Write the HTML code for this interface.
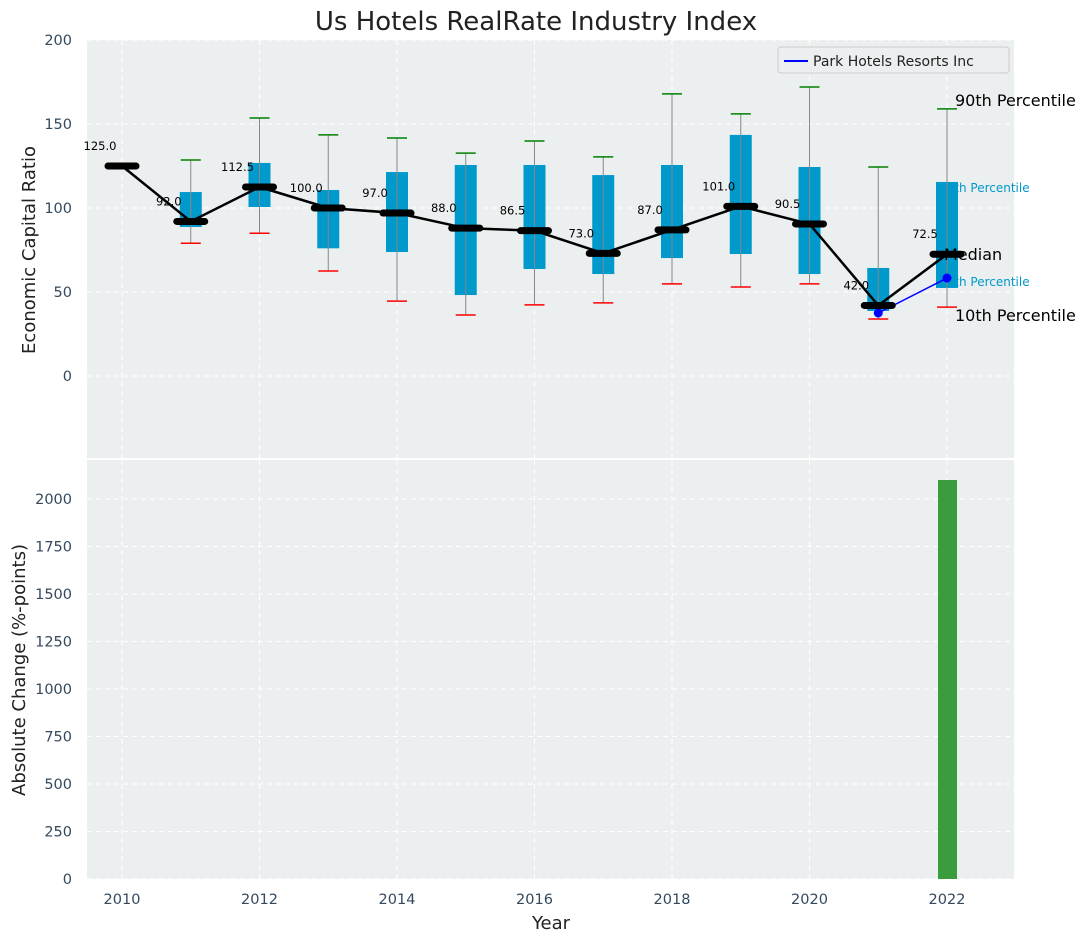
<!DOCTYPE html>
<html><head><meta charset="utf-8"><style>
body{margin:0;background:#fff}
svg{display:block;font-family:"DejaVu Sans","Liberation Sans",sans-serif}
</style></head><body>
<svg id="c" width="1090" height="942" viewBox="0 0 1090 942" xmlns="http://www.w3.org/2000/svg">
<text x="536" y="30" font-size="26" text-anchor="middle" fill="#222">Us Hotels RealRate Industry Index</text>
<rect x="87" y="40" width="927" height="418" fill="#ebeff0"/>
<rect x="87" y="460" width="927" height="419" fill="#ebeff0"/>
<g id="grid"></g>
<g id="marks"></g>
<text transform="translate(35,250) rotate(-90)" font-size="18" text-anchor="middle" fill="#222">Economic Capital Ratio</text>
<text transform="translate(25,670) rotate(-90)" font-size="18" text-anchor="middle" fill="#222">Absolute Change (%-points)</text>
<text x="551" y="929" font-size="18" text-anchor="middle" fill="#222">Year</text>
<g>
<rect x="778" y="47" width="231" height="26" rx="3" fill="#ebeff0" stroke="#ccc"/>
<line x1="784" y1="61" x2="808" y2="61" stroke="blue" stroke-width="2"/>
<text x="813" y="66" font-size="14" fill="#222">Park Hotels Resorts Inc</text>
</g>
</svg>
<script>
const years=[2010,2011,2012,2013,2014,2015,2016,2017,2018,2019,2020,2021,2022];
const medians=[125,92,112.5,100,97,88,86.5,73,87,101,90.5,42,72.5];
const q1=[null,88.7,100.6,76,73.8,48.2,63.7,60.7,70.2,72.6,60.7,38.7,52.4];
const q3=[null,109.5,126.8,110.7,121.4,125.6,125.6,119.6,125.6,143.5,124.4,64.3,115.5];
const p10=[null,79,85,62.5,44.6,36.3,42.3,43.5,54.8,53,54.8,33.9,41];
const p90=[null,128.6,153.6,143.5,141.7,132.7,139.9,130.4,167.9,156,172,124.4,159];
const companyYears=[2021,2022];
const companyValues=[37.5,58.3];
const barYears=[2022];
const barValues=[2100];
const topTicks=[0,50,100,150,200];
const bottomTicks=[0,250,500,750,1000,1250,1500,1750,2000];
const xTicks=[2010,2012,2014,2016,2018,2020,2022];

const X=v=>122+(v-2010)*68.75;
const Y1=v=>376-v*1.68;
const Y2=v=>879-v*0.19;
const NS="http://www.w3.org/2000/svg";
const grid=document.getElementById('grid');
const marks=document.getElementById('marks');
function mk(tag,attrs,parent){const e=document.createElementNS(NS,tag);for(const k in attrs)e.setAttribute(k,attrs[k]);(parent||marks).appendChild(e);return e;}
function txt(x,y,s,attrs,parent){const e=mk('text',Object.assign({x:x,y:y},attrs),parent);e.textContent=s;return e;}

xTicks.forEach(t=>{
  let g=mk('line',{x1:X(t),x2:X(t),y1:40,y2:458,stroke:'#fff','stroke-dasharray':'5,4','stroke-width':1},grid);
  
  
  g=mk('line',{x1:X(t),x2:X(t),y1:460,y2:879,stroke:'#fff','stroke-dasharray':'5,4','stroke-width':1},grid);
  
  
  const l=txt(X(t),904,String(t),{'font-size':14.5,'text-anchor':'middle',fill:'#34495e'},grid);
  
  
});
topTicks.forEach(t=>{
  const g=mk('line',{x1:87,x2:1014,y1:Y1(t),y2:Y1(t),stroke:'#fff','stroke-dasharray':'5,4'},grid);
  
  
  const l=txt(72,Y1(t)+5,String(t),{'font-size':14.5,'text-anchor':'end',fill:'#34495e'},grid);
  
  
});
bottomTicks.forEach(t=>{
  const g=mk('line',{x1:87,x2:1014,y1:Y2(t),y2:Y2(t),stroke:'#fff','stroke-dasharray':'5,4'},grid);
  
  
  const l=txt(72,Y2(t)+5,String(t),{'font-size':14.5,'text-anchor':'end',fill:'#34495e'},grid);
  
  
});

const lastI=years.length-1, lx=X(years[lastI]);
[[q3[lastI],'75th Percentile',-8,12,'#0099cc',10],[q1[lastI],'25th Percentile',-8,12,'#0099cc',-2]].forEach(a=>{
  const t=txt(lx+a[2],Y1(a[0])+a[5],a[1],{'font-size':a[3],fill:a[4]});
  
  
});
years.forEach((yr,i)=>{
  const x=X(yr);
  if(q1[i]!=null){
    const b=mk('rect',{x:x-11,y:Y1(q3[i]),width:22,height:Y1(q1[i])-Y1(q3[i]),fill:'#0099cc'});
    
    
    const w=mk('line',{x1:x,x2:x,y1:Y1(p90[i]),y2:Y1(p10[i]),stroke:'#888','stroke-width':1});
    
    
    const c1=mk('line',{x1:x-10,x2:x+10,y1:Y1(p90[i]),y2:Y1(p90[i]),stroke:'green','stroke-width':1.5});
    
    
    const c2=mk('line',{x1:x-10,x2:x+10,y1:Y1(p10[i]),y2:Y1(p10[i]),stroke:'red','stroke-width':1.5});
    
    
  }
});
[[p90[lastI],'90th Percentile',8,16,-3],[medians[lastI],'Median',-3,16,6],[p10[lastI],'10th Percentile',8,16,14]].forEach(a=>{
  const t=txt(lx+a[2],Y1(a[0])+a[4],a[1],{'font-size':a[3],fill:'#000'});
  
  
});
const mp=mk('polyline',{points:years.map((y,i)=>X(y)+','+Y1(medians[i])).join(' '),fill:'none',stroke:'#000','stroke-width':2.5});


const cp=mk('polyline',{points:companyYears.map((y,i)=>X(y)+','+Y1(companyValues[i])).join(' '),fill:'none',stroke:'blue','stroke-width':1.5});


companyYears.forEach((y,i)=>{
  const c=mk('circle',{cx:X(y),cy:Y1(companyValues[i]),r:4.5,fill:'blue'});
  
  
});
years.forEach((yr,i)=>{
  const x=X(yr);
  const m=mk('line',{x1:x-14,x2:x+14,y1:Y1(medians[i]),y2:Y1(medians[i]),stroke:'#000','stroke-width':7,'stroke-linecap':'round'});
  
  
  const l=txt(x-22,Y1(medians[i])-16,medians[i].toFixed(1),{'font-size':11.5,'text-anchor':'middle',fill:'#000'});
  
  
});
barYears.forEach((y,i)=>{
  const b=mk('rect',{x:X(y)-9,y:Y2(barValues[i]),width:19,height:Y2(0)-Y2(barValues[i]),fill:'#3a9c3d'});
  
  
});
</script>
</body></html>
